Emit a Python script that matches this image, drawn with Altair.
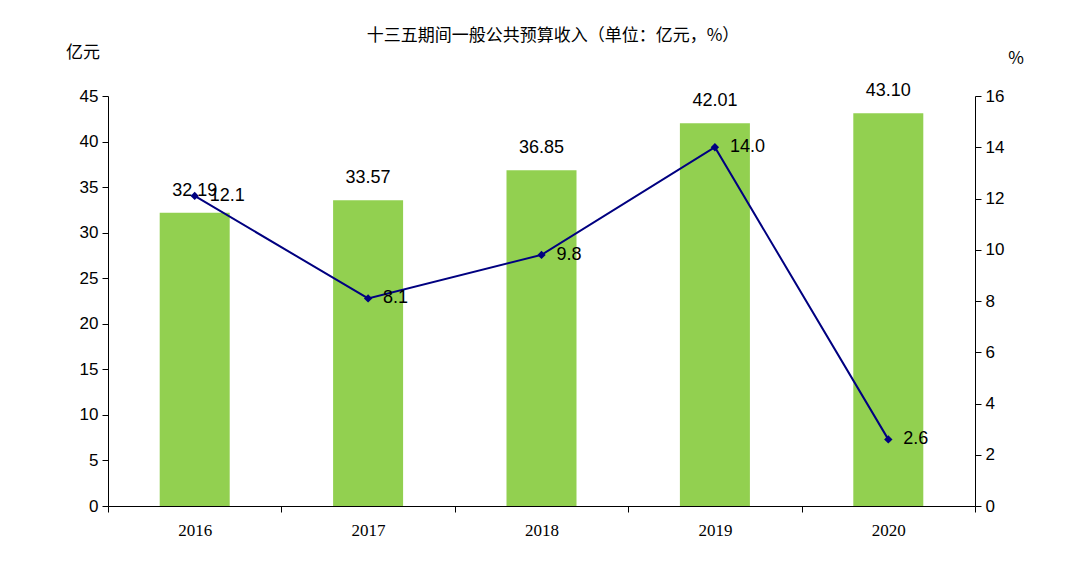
import altair as alt
import pandas as pd

years = ["2016", "2017", "2018", "2019", "2020"]
revenue = [32.19, 33.57, 36.85, 42.01, 43.10]
growth = [12.1, 8.1, 9.8, 14.0, 2.6]

df = pd.DataFrame({"year": years, "rev": revenue, "g": growth,
                   "rl": [f"{v:.2f}" for v in revenue], "gl": [f"{v:.1f}" for v in growth]})

font = "Liberation Sans"
x = alt.X("year:N", title=None, scale=alt.Scale(paddingInner=0, paddingOuter=0),
          axis=alt.Axis(labelAngle=0, tickBand="extent", labelFont="Liberation Serif",
          labelFontSize=17, labelColor="black", domainColor="black", tickColor="black", labelPadding=10, tickSize=6))

yl = alt.Y("rev:Q", title=None, scale=alt.Scale(domain=[0, 45]),
           axis=alt.Axis(values=list(range(0, 46, 5)), grid=False, labelFont=font, labelFontSize=17,
                         labelColor="black", domainColor="black", tickColor="black", tickSize=6, labelPadding=4))
yr = alt.Y("g:Q", title=None, scale=alt.Scale(domain=[0, 16]),
           axis=alt.Axis(orient="right", values=list(range(0, 17, 2)), grid=False, labelFont=font, labelFontSize=17,
                         labelColor="black", domainColor="black", tickColor="black", tickSize=6, labelPadding=4))

base = alt.Chart(df)
bars = base.mark_bar(color="#92D050", size=70).encode(x=x, y=yl)
barlab = base.mark_text(font=font, fontSize=18, dy=-22, color="black").encode(x=x, y=yl, text="rl:N")
line = base.mark_line(color="#000080", strokeWidth=2).encode(x=x, y=yr)
pts = base.mark_point(shape="diamond", filled=True, color="#000080", size=70, opacity=1).encode(x=x, y=yr)
linelab = base.mark_text(font=font, fontSize=18, align="left", dx=15, color="black").encode(x=x, y=yr, text="gl:N")

left = alt.layer(bars, barlab)
right = alt.layer(line, pts, linelab)

tdf = pd.DataFrame({"t": ["十三五期间一般公共预算收入（单位：亿元，%）", "亿元", "%"],
                    "x": [445, -25, 908], "y": [-60, -43, -37]})
titles = alt.Chart(tdf).mark_text(font="Noto Sans CJK SC", fontSize=17, color="black").encode(
    x=alt.X("x:Q", scale=None), y=alt.Y("y:Q", scale=None), text="t:N")

chart = alt.layer(left, right, titles).resolve_scale(y="independent").properties(
    width=867, height=410, autosize=alt.AutoSizeParams(type="none"),
    padding={"left": 100, "top": 88, "right": 105, "bottom": 58}
).configure_view(stroke=None)

chart.save("out.html", embed_options={"renderer": "svg", "actions": False})
